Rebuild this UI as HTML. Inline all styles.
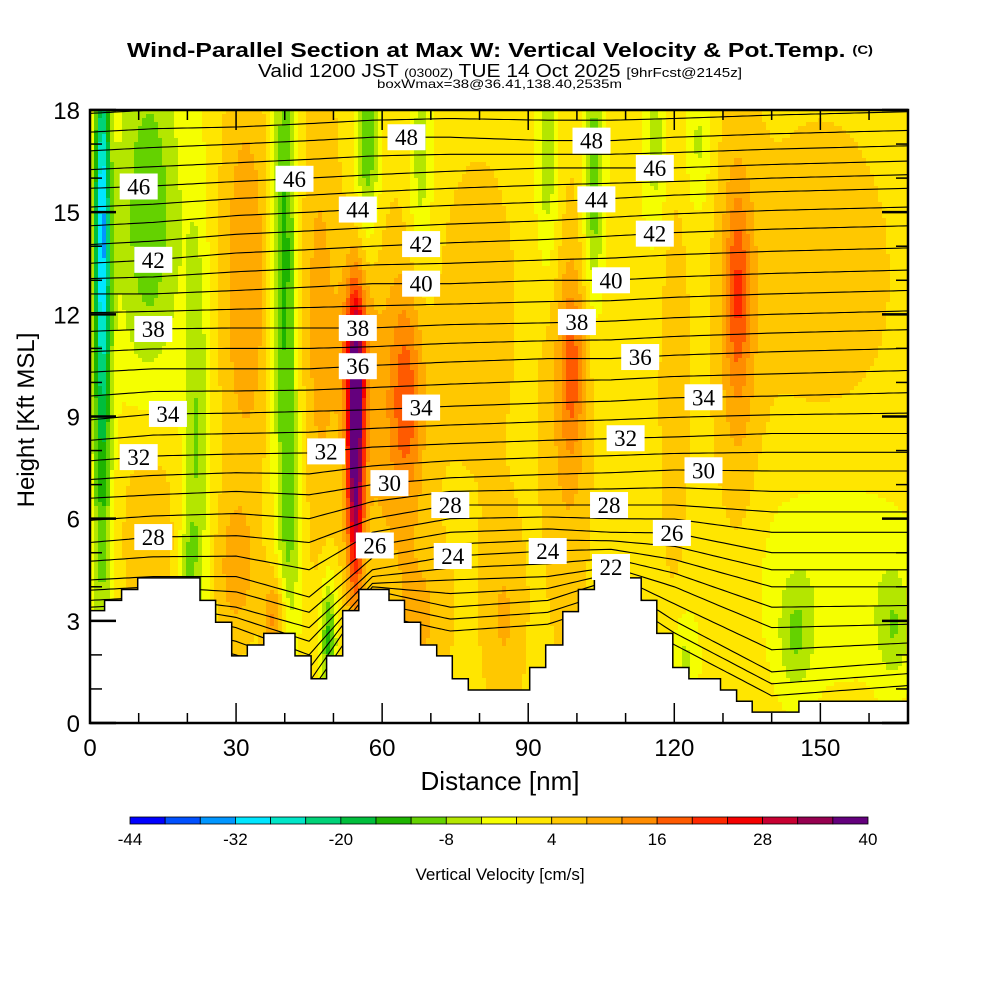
<!DOCTYPE html>
<html><head><meta charset="utf-8"><style>
html,body{margin:0;padding:0;background:#fff;}
svg{display:block;font-family:"Liberation Sans",sans-serif;}
</style></head><body>
<svg id="chart" width="1000" height="1000" viewBox="0 0 1000 1000">
<defs><clipPath id="plotclip"><rect x="90" y="110" width="818" height="613"/></clipPath></defs>
<g>
<text x="127" y="57" font-size="20" font-weight="bold" textLength="746" lengthAdjust="spacingAndGlyphs">Wind-Parallel Section at Max W: Vertical Velocity &amp; Pot.Temp. <tspan font-size="12" dy="-3">(C)</tspan></text>
<text x="258" y="77" font-size="18" textLength="484" lengthAdjust="spacingAndGlyphs">Valid 1200 JST <tspan font-size="12">(0300Z)</tspan> TUE 14 Oct 2025 <tspan font-size="13">[9hrFcst@2145z]</tspan></text>
<text x="377" y="88" font-size="12" textLength="245" lengthAdjust="spacingAndGlyphs">boxWmax=38@36.41,138.40,2535m</text>
</g>
<g id="field" clip-path="url(#plotclip)"></g>
<g id="isentropes" clip-path="url(#plotclip)"></g>
<path id="terrain" fill="#fff" stroke="#000" stroke-width="1.5"/>
<g id="labels"></g>
<g id="axes"></g>
<rect x="90" y="110" width="818" height="613" fill="none" stroke="#000" stroke-width="2.5"/>
<text x="500" y="790" text-anchor="middle" font-size="26">Distance [nm]</text>
<text transform="translate(34,420) rotate(-90)" text-anchor="middle" font-size="24">Height [Kft MSL]</text>
<g id="colorbar"></g>
<text x="500" y="880" text-anchor="middle" font-size="17">Vertical Velocity [cm/s]</text>
</svg>
<script>
// ---- data ----
const colorLevels = [-44,-40,-36,-32,-28,-24,-20,-16,-12,-8,-4,0,4,8,12,16,20,24,28,32,36,40];
const colorHex = ["#0000ff","#0050ff","#0096ff","#00e6ff","#00e6c8","#00d278","#00be3c","#1eb400","#64d200","#b4e600","#f5ff00","#ffe600","#ffc800","#ffaa00","#ff8c00","#ff5a00","#ff2800","#f50000","#c80032","#960050","#64007d"];
const colorTickLabels = [-44,-32,-20,-8,4,16,28,40];
const baseW = 2;
// w features: [x nm, z kft, amplitude cm/s, sx nm, sz kft]
const wFeatures = [
 [2.5,15,-28,1.1,3.5],[2.5,8,-14,1.5,5],[12,15,-13,5,4],[22,8,-10,1.8,5],[20,4,-8,1.2,1.5],
 [32,13,10,3.5,4],[40,14,-16,1.8,5],[41,6,-9,1.8,3],[47,12,7,3,5],
 [57,17,-14,1.8,2],[68,16.5,-9,1.8,2.5],
 [54.5,8,36,1.2,2.8],[54.5,11,14,2,1.5],[65,9.5,12,2.3,2.2],[60,9,7,6,4],
 [94,16.5,-10,1.8,2.5],[103.5,16,-14,1.5,2.5],[116,17,-8,1.8,2],[125,17,-7,1.8,1.5],
 [99,10.4,11,1.8,1.8],[98,9,6,3.5,5],[133,12.7,12,1.8,2],[133,11,6,3.5,5],[120,9.5,6,2,4],
 [150,13,4,12,4],[145,2.5,-8,2.5,1.2],[165,2.8,-8,2.5,1.2],[122,1.8,-7,2,1],
 [12,6,6,4,2.5],[30,4.5,8,3,1.5],[38,3,12,1.5,1],[49,2.5,-16,1.2,1.3],[68,3,6,4,1.5],[85,3,6,3,2],
 [152,4.5,-5,14,2.5],[80,12,3,8,5]
];
const thetaTable = [20,22,24,26,28,30,32,34,36,38,40,42,44,46,48,50,52];
const thetaNodesX = [0,13,30,45,58,74,94,107,120,140,168];
const thetaHeights = [
 [2.5,3.2,3.6,4.2,5.3,6.6,7.7,8.9,10.3,11.5,12.6,13.5,14.6,15.7,16.8,17.9,19],
 [2.6,3.3,3.7,4.3,5.46,6.7,7.84,9.07,10.4,11.57,12.6,13.6,14.7,15.77,16.9,18,19.1],
 [2.0,2.8,3.4,4.3,5.5,6.8,7.9,9.1,10.4,11.6,12.7,13.8,14.9,15.9,17,18,19.1],
 [1.2,2.0,2.8,3.7,5.3,6.7,7.93,9.15,10.4,11.6,12.8,13.9,15,16,17.1,18.1,19.2],
 [3.9,4.1,4.5,5.2,6.0,7.0,8.1,9.2,10.5,11.6,12.9,14.0,15.1,16.1,17.2,18.2,19.3],
 [3.4,4.2,4.9,5.6,6.4,7.2,8.2,9.3,10.6,11.7,12.9,14.1,15.2,16.2,17.2,18.3,19.3],
 [3.6,4.3,5.05,5.7,6.4,7.3,8.3,9.4,10.7,11.75,13.0,14.2,15.3,16.3,17.1,18.3,19.4],
 [4.2,4.58,5.1,5.6,6.4,7.35,8.35,9.45,10.7,11.8,13.0,14.3,15.4,16.3,17.1,18.3,19.4],
 [3.0,4.0,4.8,5.58,6.4,7.43,8.4,9.55,10.8,11.9,13.1,14.4,15.5,16.3,17.2,18.3,19.4],
 [1.5,2.8,4.0,5.0,6.2,7.4,8.5,9.6,10.9,12.0,13.2,14.5,15.6,16.4,17.3,18.4,19.5],
 [1.8,2.9,4.0,5.0,6.2,7.4,8.5,9.7,11.0,12.1,13.3,14.6,15.7,16.5,17.4,18.5,19.6]
];
// labels: [theta, x nm]
const thetaLabels = [[28,13],[32,10],[34,16],[38,13],[42,13],[46,10],[46,42],[44,55],[48,65],[42,68],[40,68],[38,55],[36,55],[34,68],[32,48.5],[30,61.5],[28,74],[26,58.5],[24,74.5],[24,94],[22,107],[28,106.6],[30,126],[32,110],[34,126],[36,113],[38,100],[40,107],[42,116],[44,104],[46,116],[48,103],[26,119.5]];
// terrain steps: [start nm, height kft]
const terrainX = [0,3,6.5,9.8,22.6,25.8,29.1,32.3,35.7,42.1,45.4,48.6,51.9,55.2,61.4,64.6,67.9,71.2,74.4,77.7,90.3,93.6,97.1,100.3,103.6,113.2,116.4,119.7,123,129.5,132.8,136,145.6];
const terrainH = [3.3,3.6,3.92,4.26,3.6,2.96,1.97,2.29,2.63,1.97,1.3,1.97,3.3,3.92,3.6,2.96,2.29,1.97,1.3,0.97,1.63,2.29,3.27,3.92,4.26,3.6,2.63,1.63,1.3,0.97,0.64,0.32,0.64];
const xTicks = [0,30,60,90,120,150];
const yTicks = [0,3,6,9,12,15,18];

// ---- scales ----
const X0=90,X1=908,Y0=723,Y1=110,XMAX=168,ZMAX=18;
const sx = v => X0 + v*(X1-X0)/XMAX;
const sy = v => Y0 - v*(Y0-Y1)/ZMAX;
const NS="http://www.w3.org/2000/svg";
function mk(tag, attrs, parent){const e=document.createElementNS(NS,tag);for(const k in attrs)e.setAttribute(k,attrs[k]);parent.appendChild(e);return e;}

// ---- field ----
function wAt(x,z){let w=baseW;for(const f of wFeatures){const dx=(x-f[0])/f[3],dz=(z-f[1])/f[4];w+=f[2]*Math.exp(-0.5*(dx*dx+dz*dz));}return w;}
function binOf(w){let i=Math.floor((w-colorLevels[0])/4);return Math.max(0,Math.min(colorHex.length-1,i));}
const field=document.getElementById('field');
const CW=4,CH=4;
function addRun(x0,x1,y,b){
  const r=mk('rect',{x:x0,y:y,width:x1-x0+0.6,height:CH+0.6,fill:colorHex[b]},field);
  
  
}
for(let py=Y1;py<Y0;py+=CH){
  let runStart=X0,runBin=-1;
  const z=(Y0-(py+CH/2))*ZMAX/(Y0-Y1);
  let px;
  for(px=X0;px<X1;px+=CW){
    const x=(px+CW/2-X0)*XMAX/(X1-X0);
    const b=binOf(wAt(x,z));
    if(b!==runBin){
      if(runBin>=0) addRun(runStart,px,py,runBin);
      runStart=px;runBin=b;
    }
  }
  if(runBin>=0) addRun(runStart,X1+2,py,runBin);
}

// ---- isentropes ----
function zAtNode(i,t){const tb=thetaTable;if(t<=tb[0])return thetaHeights[i][0]-(tb[0]-t)*0.35;
  for(let k=0;k<tb.length-1;k++){if(t<=tb[k+1]){const f=(t-tb[k])/(tb[k+1]-tb[k]);return thetaHeights[i][k]+f*(thetaHeights[i][k+1]-thetaHeights[i][k]);}}
  return thetaHeights[i][tb.length-1]+(t-tb[tb.length-1])*0.55;}
function zTheta(t,x){const nx=thetaNodesX;let i=0;while(i<nx.length-2&&x>nx[i+1])i++;
  const f=Math.max(0,Math.min(1,(x-nx[i])/(nx[i+1]-nx[i])));return zAtNode(i,t)*(1-f)+zAtNode(i+1,t)*f;}
const iso=document.getElementById('isentropes');
for(let t=18;t<=54;t++){
  let d='';
  for(let x=0;x<=XMAX;x+=1){d+=(x===0?'M':'L')+sx(x).toFixed(1)+','+sy(zTheta(t,x)).toFixed(1);}
  const p=mk('path',{d:d,fill:'none',stroke:'#000','stroke-width':1.1},iso);
  
  
}

// ---- terrain ----
let td='M'+sx(0)+','+sy(0);
for(let i=0;i<terrainX.length;i++){const xe=i<terrainX.length-1?terrainX[i+1]:XMAX;
  td+='L'+sx(terrainX[i]).toFixed(1)+','+sy(terrainH[i]).toFixed(1)+'L'+sx(xe).toFixed(1)+','+sy(terrainH[i]).toFixed(1);}
td+='L'+sx(XMAX)+','+sy(0)+'Z';
document.getElementById('terrain').setAttribute('d',td);

// ---- labels ----
const lg=document.getElementById('labels');
for(const L of thetaLabels){
  const cx=sx(L[1]),cy=sy(zTheta(L[0],L[1]));
  const g=mk('g',{},lg);
  
  
  mk('rect',{x:cx-19,y:cy-13,width:38,height:26,fill:'#fff'},g);
  const tx=mk('text',{x:cx,y:cy+8,'text-anchor':'middle','font-size':23,'font-family':'"Liberation Serif",serif'},g);
  tx.textContent=L[0];
}

// ---- axes ----
const ax=document.getElementById('axes');
for(let v=0;v<=XMAX;v+=10){const major=v%30===0,len=major?20:10,x=sx(v);
  mk('line',{x1:x,y1:Y0,x2:x,y2:Y0-len,stroke:'#000','stroke-width':1.5},ax);
  mk('line',{x1:x,y1:Y1,x2:x,y2:Y1+len,stroke:'#000','stroke-width':1.5},ax);}
for(const v of xTicks){const t=mk('text',{x:sx(v),y:756,'text-anchor':'middle','font-size':24},ax);t.textContent=v;
  
  }
for(let v=0;v<=ZMAX;v+=1){const major=v%3===0,len=major?26:12,y=sy(v);
  mk('line',{x1:X0,y1:y,x2:X0+len,y2:y,stroke:'#000','stroke-width':major?2.5:1.5},ax);
  mk('line',{x1:X1,y1:y,x2:X1-len,y2:y,stroke:'#000','stroke-width':major?2.5:1.5},ax);}
for(const v of yTicks){const t=mk('text',{x:80,y:sy(v)+9,'text-anchor':'end','font-size':24},ax);t.textContent=v;
  
  }

// ---- colorbar ----
const cb=document.getElementById('colorbar');
const CB0=130,CB1=868,bw=(CB1-CB0)/colorHex.length;
colorHex.forEach((c,i)=>{const r=mk('rect',{x:CB0+i*bw,y:817,width:bw,height:7,fill:c,stroke:'#000','stroke-width':0.8},cb);
  
  });
for(const v of colorTickLabels){const t=mk('text',{x:CB0+(v-colorLevels[0])/4*bw,y:845,'text-anchor':'middle','font-size':17},cb);t.textContent=v;
  
  }
</script>
</body></html>
